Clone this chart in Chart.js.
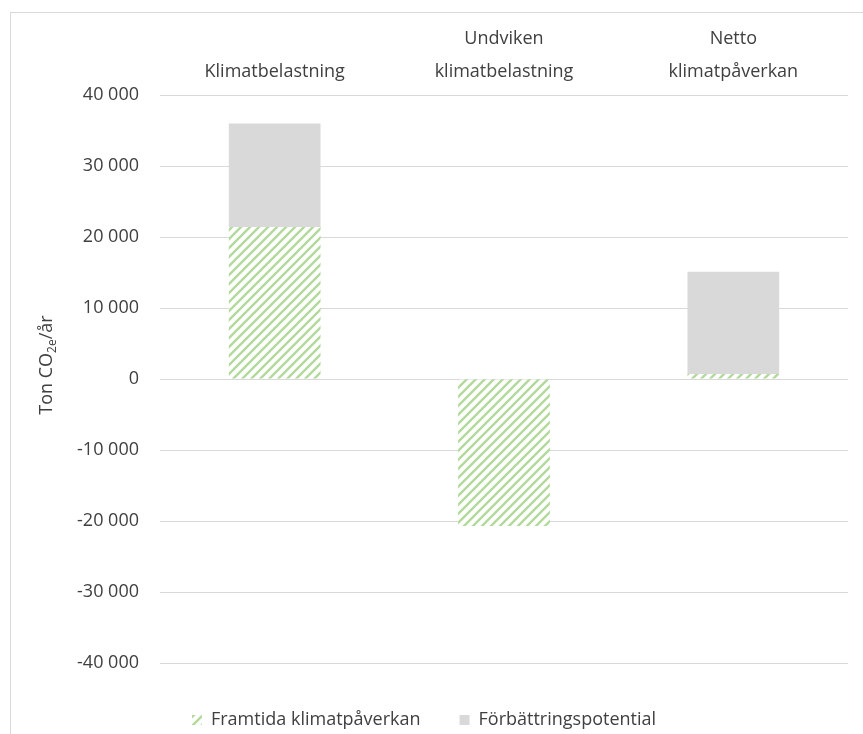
<!DOCTYPE html>
<html>
<head>
<meta charset="utf-8">
<script src="https://cdn.jsdelivr.net/npm/chart.js@4.4.1/dist/chart.umd.min.js"></script>
<style>
  html, body { margin: 0; padding: 0; background: #fff; overflow: hidden; }
  #wrap { position: relative; width: 863px; height: 734px; }
  #frame { position: absolute; left: 10px; top: 12px; width: 900px; height: 800px; border: 1px solid #d9d9d9; }
  #chart { position: absolute; left: 0; top: 0; }
</style>
</head>
<body>
<div id="wrap">
  <div id="frame"></div>
  <canvas id="chart" width="863" height="734"></canvas>
</div>
<script>
const categories = [['Klimatbelastning'], ['Undviken', 'klimatbelastning'], ['Netto', 'klimatpåverkan']];
const framtida = [21400, -20700, 700];
const forbattring = [14600, 0, 14400];
const seriesNames = ['Framtida klimatpåverkan', 'Förbättringspotential'];
const yMin = -40000;
const yMax = 40000;
const yStep = 10000;

const FONT = "'Open Sans', sans-serif";
const TEXT = '#404040';

const makeHatch = (color) => {
  const s = 9;
  const c = document.createElement('canvas');
  c.width = s; c.height = s;
  const g = c.getContext('2d');
  g.fillStyle = '#fff';
  g.fillRect(0, 0, s, s);
  g.strokeStyle = color;
  g.lineWidth = 2.4;
  g.beginPath();
  g.moveTo(-2, s + 2); g.lineTo(s + 2, -2);
  g.moveTo(-2, 2); g.lineTo(2, -2);
  g.moveTo(s - 2, s + 2); g.lineTo(s + 2, s - 2);
  g.stroke();
  return g.createPattern(c, 'repeat');
};

const fmt = (v) => {
  const n = String(Math.abs(v)).replace(/\B(?=(\d{3})+(?!\d))/g, ' ');
  return (v < 0 ? '-' : '') + n;
};

// y title with subscript, drawn rotated
const yTitle = {
  id: 'yTitle',
  afterDraw(chart) {
    const ctx = chart.ctx;
    const parts = [['Ton CO', 18, 0], ['2e', 12, 4], ['/år', 18, 0]];
    ctx.save();
    let w = 0;
    parts.forEach(([t, sz]) => { ctx.font = sz + 'px ' + FONT; w += ctx.measureText(t).width; });
    ctx.translate(52, 365);
    ctx.rotate(-Math.PI / 2);
    ctx.fillStyle = TEXT;
    ctx.textBaseline = 'alphabetic';
    let x = -w / 2;
    parts.forEach(([t, sz, dy]) => {
      ctx.font = sz + 'px ' + FONT;
      ctx.fillText(t, x, dy);
      x += ctx.measureText(t).width;
    });
    ctx.restore();
  }
};

const legendShift = {
  id: 'legendShift',
  afterLayout(chart) {
    chart.legend.top += 9;
    chart.legend.bottom += 9;
  }
};

new Chart(document.getElementById('chart'), {
  type: 'bar',
  data: {
    labels: categories,
    datasets: [
      { label: seriesNames[0], data: framtida, backgroundColor: makeHatch('#b3d99c'), borderWidth: 0 },
      { label: seriesNames[1], data: forbattring, backgroundColor: '#d9d9d9', borderWidth: 0 }
    ]
  },
  options: {
    responsive: false,
    animation: false,
    categoryPercentage: 1,
    barPercentage: 0.4,
    layout: { padding: { left: 0, right: 15, top: 0, bottom: 4 } },
    plugins: {
      tooltip: { enabled: false },
      legend: {
        position: 'bottom',
        labels: { color: TEXT, font: { family: FONT, size: 18 }, boxWidth: 10, boxHeight: 10, padding: 39 }
      }
    },
    scales: {
      x: {
        position: 'top',
        stacked: true,
        grid: { display: false },
        border: { display: false },
        ticks: { color: TEXT, font: { family: FONT, size: 18, lineHeight: 1.85 }, padding: -2, maxRotation: 0 },
        afterFit: (s) => { s.height = 95; }
      },
      y: {
        stacked: true,
        min: yMin,
        max: yMax,
        grid: { color: '#d9d9d9', lineWidth: 1, drawTicks: false },
        border: { display: false },
        ticks: { stepSize: yStep, color: TEXT, font: { family: FONT, size: 18 }, padding: 21, callback: (v) => fmt(v) },
        afterFit: (s) => { s.width = 160; }
      }
    }
  },
  plugins: [yTitle, legendShift]
});
</script>
</body>
</html>
